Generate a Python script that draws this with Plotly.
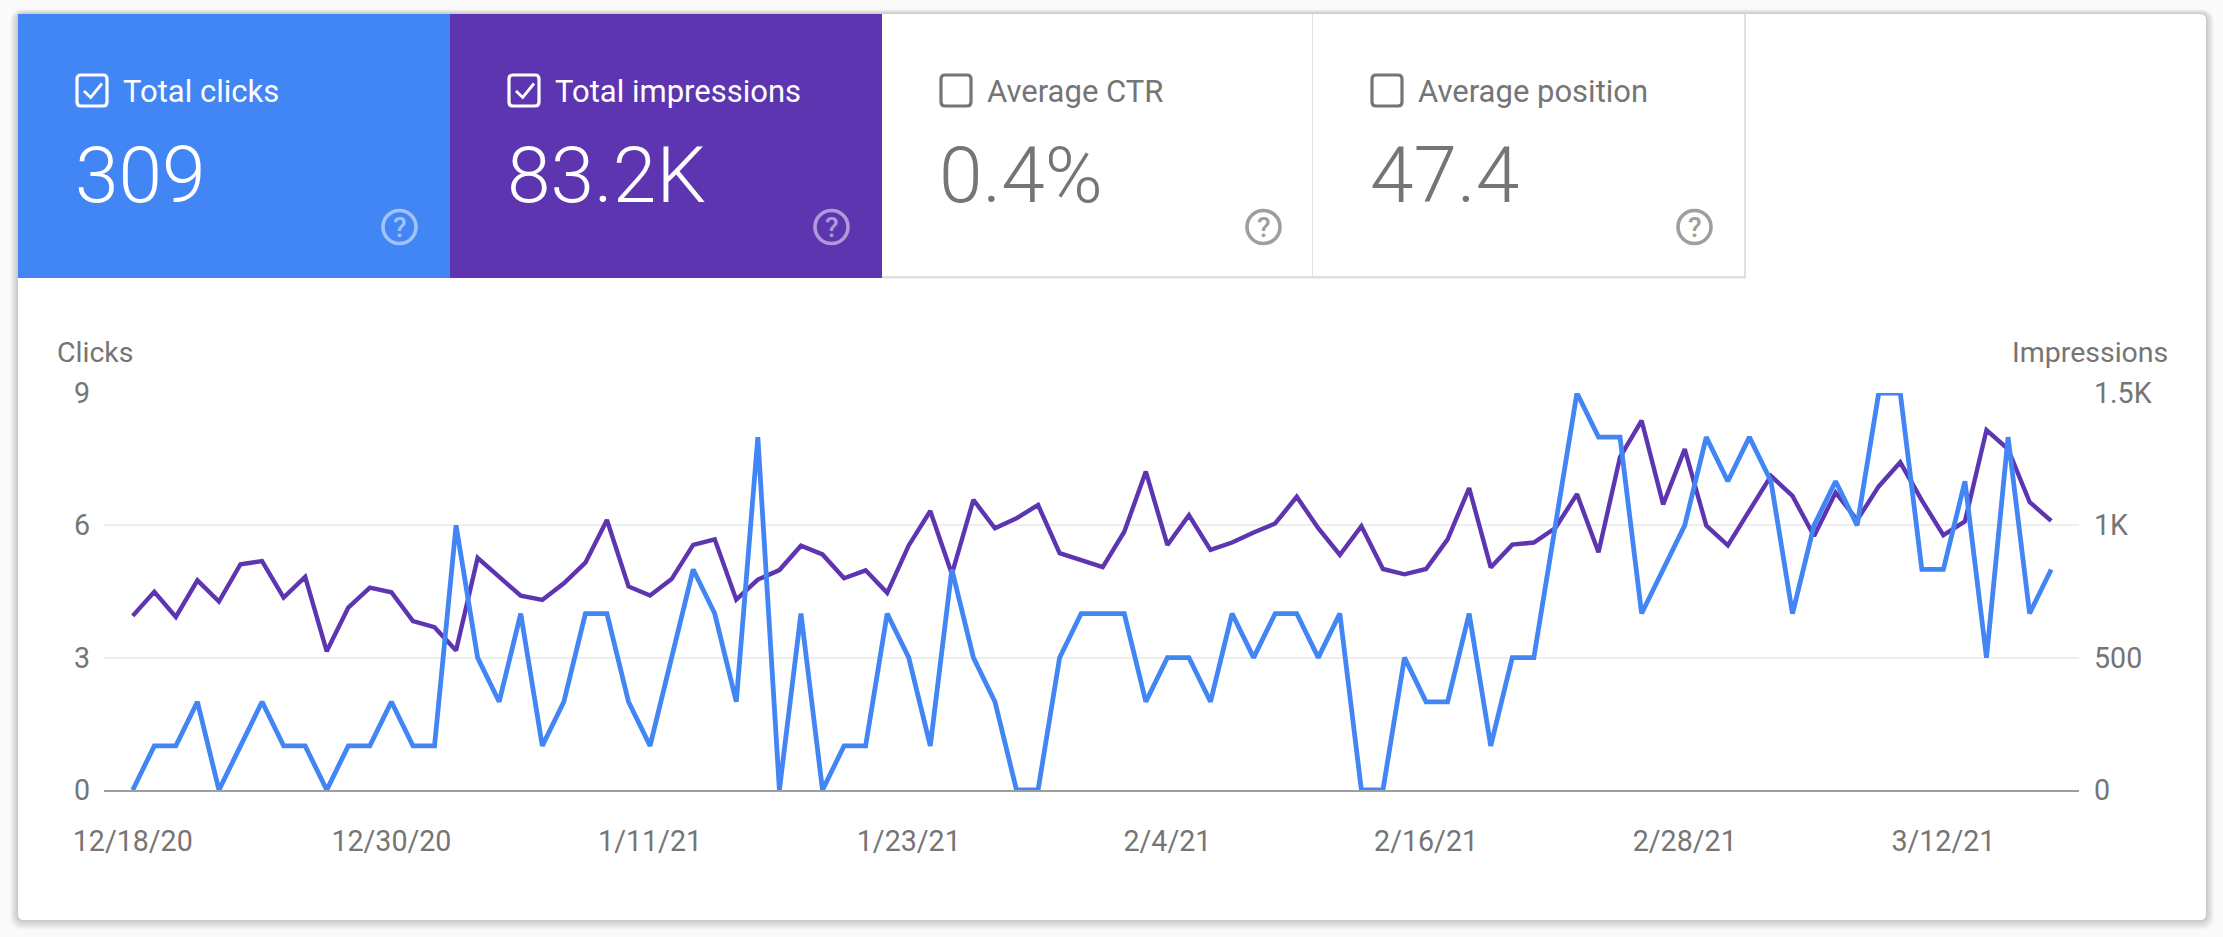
import pandas as pd
import plotly.graph_objects as go

W = 2223
H = 937

# daily values
clicks = [0, 1, 1, 2, 0, 1, 2, 1, 1, 0,
          1, 1, 2, 1, 1, 6, 3, 2, 4, 1,
          2, 4, 4, 2, 1, 3, 5, 4, 2, 8,
          0, 4, 0, 1, 1, 4, 3, 1, 5, 3,
          2, 0, 0, 3, 4, 4, 4, 2, 3, 3,
          2, 4, 3, 4, 4, 3, 4, 0, 0, 3,
          2, 2, 4, 1, 3, 3, 6, 9, 8, 8,
          4, 5, 6, 8, 7, 8, 7, 4, 6, 7,
          6, 9, 9, 5, 5, 7, 3, 8, 4, 5]
impressions = [658, 749, 654, 792, 712, 853, 865, 727, 805, 524,
               689, 765, 747, 638, 615, 527, 877, 805, 734, 718,
               781, 859, 1020, 769, 735, 797, 926, 947, 719, 795,
               831, 923, 890, 800, 830, 745, 924, 1054, 816, 1096,
               989, 1027, 1077, 895, 870, 842, 976, 1203, 926, 1038,
               907, 935, 973, 1007, 1108, 989, 888, 997, 835, 815,
               835, 947, 1141, 841, 927, 935, 990, 1118, 898, 1258,
               1396, 1079, 1288, 999, 924, 1054, 1187, 1111, 960, 1124,
               1020, 1147, 1238, 1094, 963, 1015, 1360, 1288, 1088, 1017]
dates = pd.date_range("2020-12-18", periods=len(clicks), freq="D")

x_tick_dates = ["2020-12-18", "2020-12-30", "2021-01-11", "2021-01-23",
                "2021-02-04", "2021-02-16", "2021-02-28", "2021-03-12"]
x_tick_labels = ["12/18/20", "12/30/20", "1/11/21", "1/23/21",
                 "2/4/21", "2/16/21", "2/28/21", "3/12/21"]
clicks_ticks = [0, 3, 6, 9]
impressions_ticks = [0, 500, 1000, 1500]
impressions_labels = ["0", "500", "1K", "1.5K"]

card_labels = ["Total clicks", "Total impressions", "Average CTR", "Average position"]
card_values = ["309", "83.2K", "0.4%", "47.4"]
card_colors = ["#4285f4", "#5e35b1", "#ffffff", "#ffffff"]
card_checked = [True, True, False, False]

BLUE = "#4285f4"
PURPLE = "#5e35b1"
GRAY = "#757575"
FONT = "Roboto"


# everything outside the plot is placed in screen pixels
def px(x):
    return x / W


def py(y):
    return 1 - y / H


def rounded_box(x0, y0, x1, y1, r):
    return (f"M {px(x0 + r)} {py(y0)} L {px(x1 - r)} {py(y0)} "
            f"Q {px(x1)} {py(y0)} {px(x1)} {py(y0 + r)} L {px(x1)} {py(y1 - r)} "
            f"Q {px(x1)} {py(y1)} {px(x1 - r)} {py(y1)} L {px(x0 + r)} {py(y1)} "
            f"Q {px(x0)} {py(y1)} {px(x0)} {py(y1 - r)} L {px(x0)} {py(y0 + r)} "
            f"Q {px(x0)} {py(y0)} {px(x0 + r)} {py(y0)} Z")


shapes = []
annotations = []


def rect(x0, y0, x1, y1, color):
    shapes.append(dict(type="rect", xref="paper", yref="paper", layer="below",
                       x0=px(x0), x1=px(x1), y0=py(y0), y1=py(y1),
                       fillcolor=color, line_width=0))


def label(x, y, text, size, color, anchor="left", weight=400):
    annotations.append(dict(xref="paper", yref="paper", x=px(x), y=py(y), text=text,
                            showarrow=False, xanchor=anchor, yanchor="middle",
                            borderpad=0, borderwidth=0,
                            font=dict(family=FONT, size=size, color=color, weight=weight)))


# soft shadow around the white panel
for i in range(8, 0, -1):
    shapes.append(dict(type="path", xref="paper", yref="paper", layer="below",
                       path=rounded_box(18 - i, 14 - i * 0.6, 2206 + i, 920 + i * 1.2, 6 + i),
                       fillcolor="rgba(0,0,0,0.022)", line_width=0))
shapes.append(dict(type="path", xref="paper", yref="paper", layer="below",
                   path=rounded_box(18, 14, 2206, 920, 6), fillcolor="#ffffff", line_width=0))

card_left = [18, 450, 882, 1313]
card_right = [450, 882, 1313, 1745]
for i in range(4):
    left = card_left[i]
    selected = card_checked[i]
    fg = "#ffffff" if selected else GRAY
    icon = "rgba(255,255,255,0.5)" if selected else "#9e9e9e"
    rect(left, 14, card_right[i], 278, card_colors[i])
    if not selected:
        rect(left, 276, card_right[i], 278.5, "#e0e0e0")
        rect(card_right[i] - 1, 14, card_right[i] + 1, 278.5, "#e0e0e0")

    # checkbox
    shapes.append(dict(type="path", xref="paper", yref="paper",
                       path=rounded_box(left + 59, 75, left + 89, 106, 4),
                       line=dict(color=fg, width=3.2)))
    if selected:
        shapes.append(dict(type="path", xref="paper", yref="paper",
                           path=(f"M {px(left + 66)} {py(91)} L {px(left + 72.7)} {py(97.5)} "
                                 f"L {px(left + 84)} {py(83.5)}"),
                           line=dict(color=fg, width=2.8)))

    label(left + 105, 91, card_labels[i], 31, fg)
    label(left + 57, 175, card_values[i], 78.5, fg, weight=350)

    # help icon
    cx = left + 381.5
    shapes.append(dict(type="circle", xref="paper", yref="paper",
                       x0=px(cx - 16.5), x1=px(cx + 16.5), y0=py(227 + 16.5), y1=py(227 - 16.5),
                       line=dict(color=icon, width=3.6)))
    label(cx, 227, "?", 28, icon, anchor="center", weight=500)

label(57, 352, "Clicks", 28.5, GRAY)
label(2168, 352, "Impressions", 28.5, GRAY, anchor="right")

fig = go.Figure()
fig.add_trace(go.Scatter(x=dates, y=impressions, mode="lines", name="Impressions", yaxis="y",
                         cliponaxis=False, line=dict(color=PURPLE, width=4.4)))
fig.add_trace(go.Scatter(x=dates, y=clicks, mode="lines", name="Clicks", yaxis="y2",
                         cliponaxis=False, line=dict(color=BLUE, width=4.8)))

tick_font = dict(family=FONT, size=28.6, color=GRAY)
fig.update_layout(
    width=W, height=H,
    margin=dict(l=0, r=0, t=0, b=0),
    paper_bgcolor="#fafafa",
    plot_bgcolor="rgba(0,0,0,0)",
    showlegend=False,
    shapes=shapes,
    annotations=annotations,
    xaxis=dict(domain=[px(104), px(2079)], type="date", automargin=False,
               range=["2020-12-16 16:00", "2021-03-18 07:00"],
               tickvals=x_tick_dates, ticktext=x_tick_labels, tickfont=tick_font,
               ticks="", showgrid=False, zeroline=False, ticklabelstandoff=25,
               showline=True, linecolor="#9e9e9e", linewidth=2),
    yaxis=dict(domain=[py(790), py(393)], side="right", range=[0, 1500], automargin=False,
               tickvals=impressions_ticks, ticktext=impressions_labels, tickfont=tick_font,
               ticks="", showgrid=True, gridcolor="#eeeeee", gridwidth=2, zeroline=False,
               ticklabelstandoff=14),
    yaxis2=dict(domain=[py(790), py(393)], side="left", overlaying="y", anchor="x", range=[0, 9],
                automargin=False, tickvals=clicks_ticks, tickfont=tick_font,
                ticks="", showgrid=False, zeroline=False, ticklabelstandoff=13),
)

fig.write_html("out.html", config={"displayModeBar": False},
               post_script="document.body.style.margin='0';document.body.style.overflow='hidden';")
